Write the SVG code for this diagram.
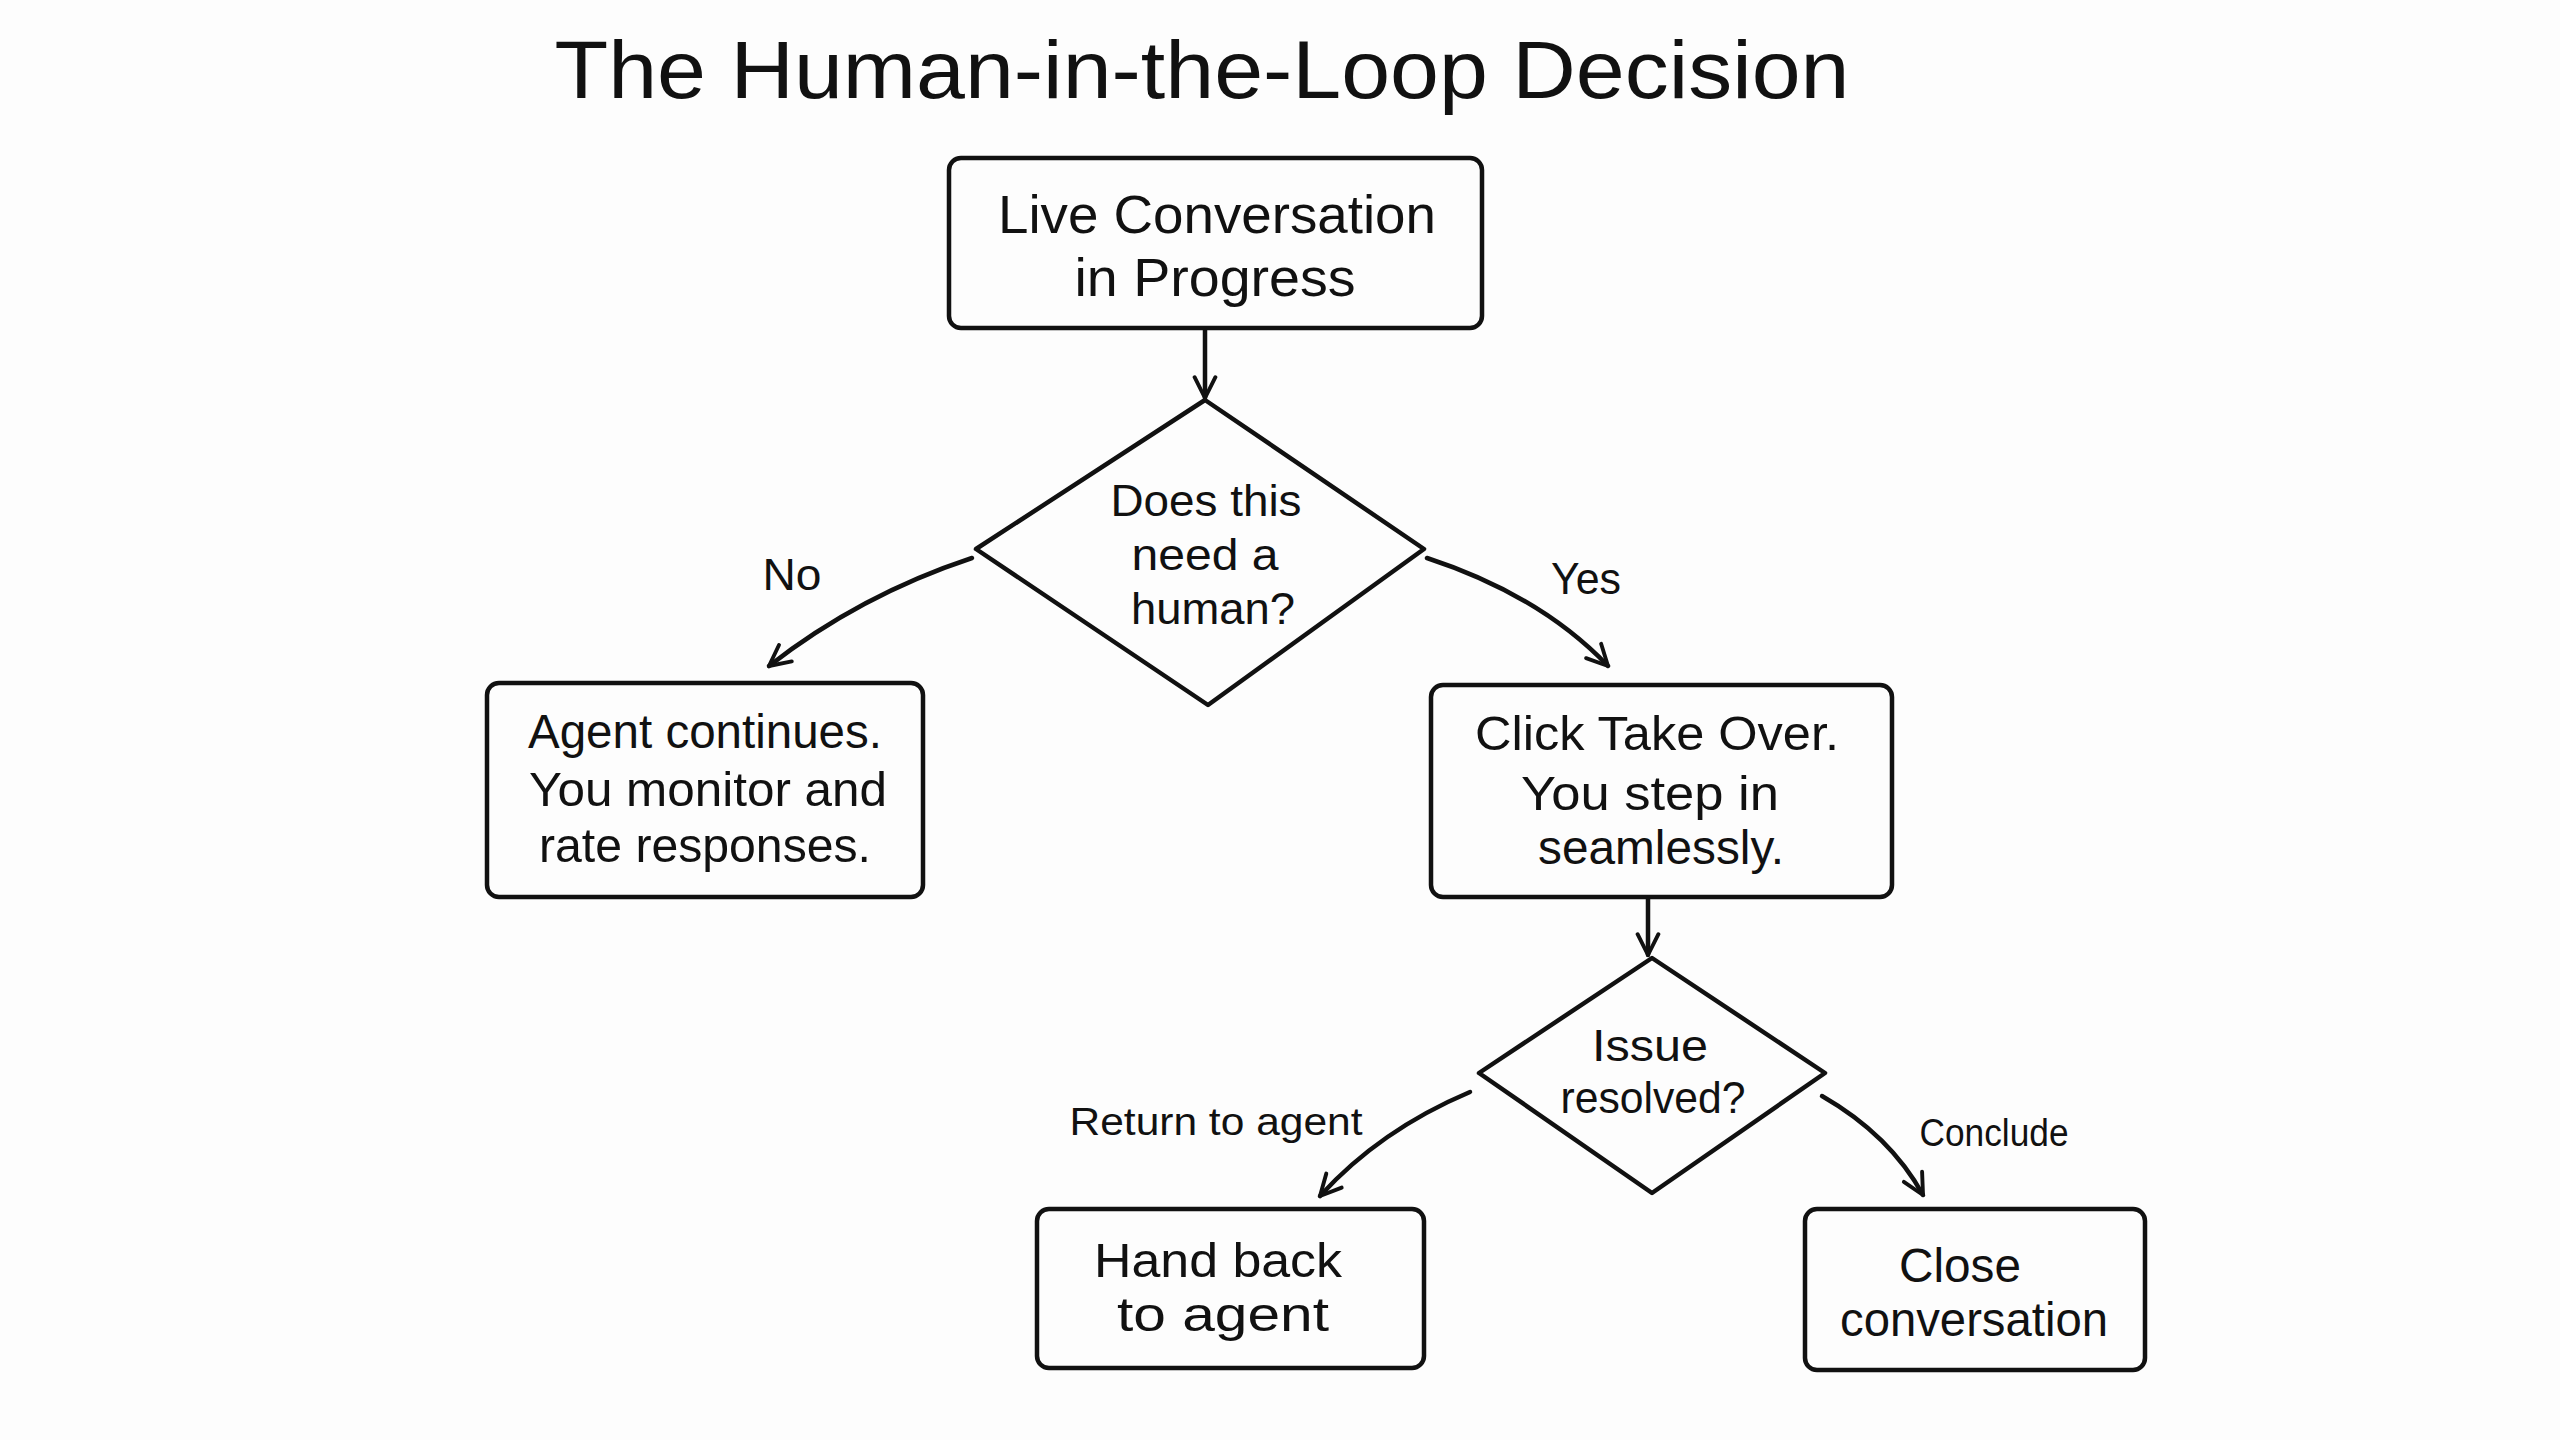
<svg xmlns="http://www.w3.org/2000/svg" width="2560" height="1440" viewBox="0 0 2560 1440">
<defs>
<style>
.bg{fill:#fdfdfd}
.box{fill:#fdfdfd;stroke:#111;stroke-width:4.5;stroke-linejoin:round}
.edge{fill:none;stroke:#111;stroke-width:4.5;stroke-linecap:round}
.t{font-family:"Liberation Sans","Noto Sans",sans-serif;fill:#111;text-anchor:middle}
.title{font-size:82px}
.node{font-size:48px}
.big{font-size:54px}
.dia{font-size:45px}
.dia2{font-size:44px}
.lbl{font-size:44px}
.sm{font-size:38px}
</style>
<marker id="arr" viewBox="0 0 20 20" refX="18" refY="10" markerWidth="26" markerHeight="26" markerUnits="userSpaceOnUse" orient="auto">
<path d="M2,2 L18,10 L2,18" fill="none" stroke="#111" stroke-width="3" stroke-linecap="round" stroke-linejoin="round"/>
</marker>
</defs>
<rect class="bg" x="0" y="0" width="2560" height="1440"/>
<text class="t title" x="1202" y="98" textLength="1295" lengthAdjust="spacingAndGlyphs">The Human-in-the-Loop Decision</text>

<g id="connectors">
<path class="edge" d="M1205,327 L1205,398" marker-end="url(#arr)"/>
<path class="edge" d="M972,558 Q860,595 769,666" marker-end="url(#arr)"/>
<path class="edge" d="M1427,558 Q1540,595 1608,666" marker-end="url(#arr)"/>
<path class="edge" d="M1648,897 L1648,955" marker-end="url(#arr)"/>
<path class="edge" d="M1470,1092 Q1380,1130 1320,1196" marker-end="url(#arr)"/>
<path class="edge" d="M1822,1096 Q1890,1135 1923,1195" marker-end="url(#arr)"/>
<text class="t lbl" x="792" y="590" textLength="59" lengthAdjust="spacingAndGlyphs">No</text>
<text class="t lbl" x="1586" y="594" textLength="70" lengthAdjust="spacingAndGlyphs">Yes</text>
<text class="t sm" x="1216" y="1135" textLength="293" lengthAdjust="spacingAndGlyphs">Return to agent</text>
<text class="t sm" x="1994" y="1146" textLength="149" lengthAdjust="spacingAndGlyphs">Conclude</text>
</g>

<g id="live">
<rect class="box" x="949" y="158" width="533" height="170" rx="12"/>
<text class="t big" x="1217" y="233" textLength="438" lengthAdjust="spacingAndGlyphs">Live Conversation</text>
<text class="t big" x="1215" y="296" textLength="281" lengthAdjust="spacingAndGlyphs">in Progress</text>
</g>

<g id="need-human">
<path class="box" d="M1205,400 L1424,549 L1208,705 L976,549 Z"/>
<text class="t dia" x="1206" y="516" textLength="191" lengthAdjust="spacingAndGlyphs">Does this</text>
<text class="t dia" x="1205" y="570" textLength="147" lengthAdjust="spacingAndGlyphs">need a</text>
<text class="t dia" x="1213" y="624" textLength="164" lengthAdjust="spacingAndGlyphs">human?</text>
</g>

<g id="agent-continues">
<rect class="box" x="487" y="683" width="436" height="214" rx="12"/>
<text class="t node" x="705" y="748" textLength="354" lengthAdjust="spacingAndGlyphs">Agent continues.</text>
<text class="t node" x="708" y="806" textLength="358" lengthAdjust="spacingAndGlyphs">You monitor and</text>
<text class="t node" x="705" y="862" textLength="332" lengthAdjust="spacingAndGlyphs">rate responses.</text>
</g>

<g id="take-over">
<rect class="box" x="1431" y="685" width="461" height="212" rx="12"/>
<text class="t node" x="1657" y="750" textLength="364" lengthAdjust="spacingAndGlyphs">Click Take Over.</text>
<text class="t node" x="1650" y="810" textLength="258" lengthAdjust="spacingAndGlyphs">You step in</text>
<text class="t node" x="1661" y="864" textLength="246" lengthAdjust="spacingAndGlyphs">seamlessly.</text>
</g>

<g id="resolved">
<path class="box" d="M1652,958 L1825,1073 L1652,1193 L1479,1073 Z"/>
<text class="t dia2" x="1650" y="1061" textLength="116" lengthAdjust="spacingAndGlyphs">Issue</text>
<text class="t dia2" x="1653" y="1113" textLength="185" lengthAdjust="spacingAndGlyphs">resolved?</text>
</g>

<g id="hand-back">
<rect class="box" x="1037" y="1209" width="387" height="159" rx="12"/>
<text class="t node" x="1218" y="1277" textLength="248" lengthAdjust="spacingAndGlyphs">Hand back</text>
<text class="t node" x="1223" y="1331" textLength="212" lengthAdjust="spacingAndGlyphs">to agent</text>
</g>

<g id="close">
<rect class="box" x="1805" y="1209" width="340" height="161" rx="12"/>
<text class="t node" x="1960" y="1282" textLength="122" lengthAdjust="spacingAndGlyphs">Close</text>
<text class="t node" x="1974" y="1336" textLength="268" lengthAdjust="spacingAndGlyphs">conversation</text>
</g>
</svg>
